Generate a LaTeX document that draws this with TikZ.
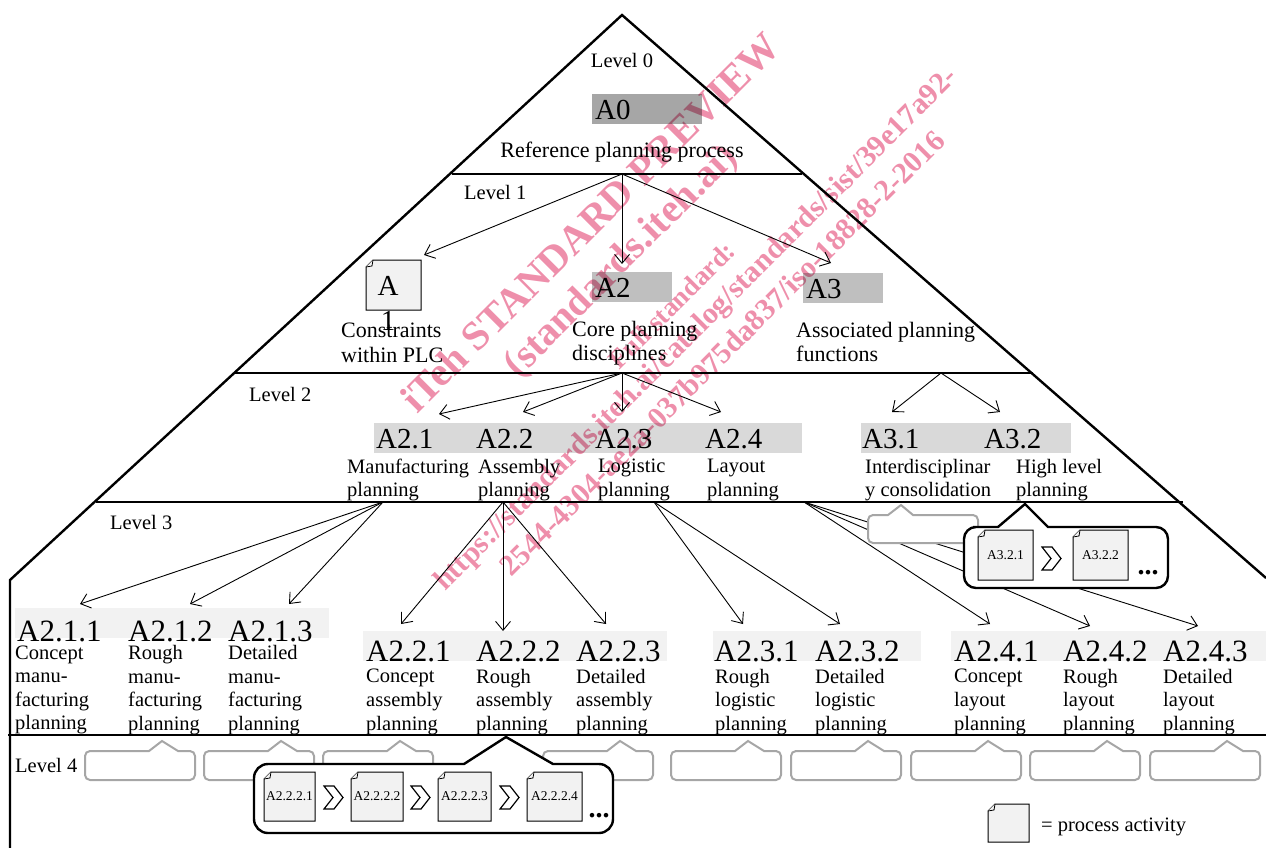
\documentclass[tikz,border=0pt]{standalone}
\usepackage{fontspec}
\setmainfont{Liberation Serif}
\usetikzlibrary{arrows.meta}

\definecolor{barzero}{HTML}{A6A6A6}
\definecolor{barone}{HTML}{BFBFBF}
\definecolor{bartwo}{HTML}{D9D9D9}
\definecolor{barthree}{HTML}{F2F2F2}
\definecolor{sheetcolor}{HTML}{F2F2F2}
\definecolor{stampcolor}{HTML}{EE8FAB}
\definecolor{hintcolor}{HTML}{A6A6A6}

\tikzset{
  pyramid/.style={line width=2.4pt, line join=miter},
  levelline/.style={line width=2.8pt},
  link/.style={->, line width=0.9pt},
  bigcode/.style={anchor=west, inner sep=0pt, font=\fontsize{29}{32}\selectfont},
  smallcode/.style={anchor=west, inner sep=0pt, font=\fontsize{31}{32}\selectfont},
  label/.style={anchor=west, inner sep=0pt, align=left, yshift=-2pt, font=\fontsize{20.5}{23.6}\selectfont},
  biglabel/.style={label, font=\fontsize{22}{24.5}\selectfont},
  sheetcode/.style={inner sep=0pt, font=\fontsize{13.5}{15}\selectfont},
  hint/.style={draw=hintcolor, fill=white, line width=2pt},
  callout/.style={draw=black, fill=white, line width=2.4pt, line join=miter},
  sheet/.style={draw=black, fill=sheetcolor, line width=1pt},
  chevronshape/.style={draw=black, fill=white, line width=1.2pt},
  stamp/.style={text=stampcolor, inner sep=0pt, rotate=45},
  moredots/.style={inner sep=0pt, font=\fontsize{28}{28}\bfseries},
}

% sheet with a folded corner: name, x1, y1, x2, y2, text
\newcommand{\docsheet}[6]{
  \draw[sheet] ({#2+7},#3) -- (#4,#3) -- (#4,#5) -- (#2,#5) -- (#2,{#3+7}) -- cycle;
  \draw[sheet, line width=0.8pt] (#2,{#3+7}) -- ({#2+6},{#3+6}) -- ({#2+7},#3);
  \node[sheetcode] (#1) at ({(#2+#4)/2},{(#3+#5)/2}) {#6};
}
% step mark between two sheets
\newcommand{\stepmark}[2]{
  \draw[chevronshape] (#1,#2) -- ({#1+10},#2) -- ({#1+19},{#2+11.5}) -- ({#1+10},{#2+23}) -- (#1,{#2+23}) -- ({#1+9},{#2+11.5}) -- cycle;
}

\begin{document}
\begin{tikzpicture}[x=1pt, y=-1pt, >={Straight Barb[length=9pt,width=15pt]}]
  \useasboundingbox (0,0) rectangle (1266,848);

  % pyramid
  \coordinate (apex) at (622,15);
  \draw[pyramid] (10,848) -- (10,580) -- (apex) -- (1266,578);
  \draw[levelline] (452,174) -- (802,174);
  \draw[levelline] (235,373) -- (1033,373);
  \draw[levelline] (96,502) -- (1183,502);
  \draw[levelline] (8,735) -- (1266,735);

  % bars
  \fill[barzero] (592,94) rectangle (702,124);
  \fill[barone] (592,272) rectangle (672,302);
  \fill[barone] (803,273) rectangle (883,303);
  \fill[bartwo] (374,423) rectangle (802,453);
  \fill[bartwo] (861,423) rectangle (1071,453);
  \fill[barthree] (15,608) rectangle (329,638);
  \fill[barthree] (363,631) rectangle (667,661);
  \fill[barthree] (713,631) rectangle (921,661);
  \fill[barthree] (951,631) rectangle (1266,661);

  % level names
  \node[label, anchor=center] (level0) at (622,58) {Level 0};
  \node[label] (level1) at (464,190) {Level 1};
  \node[label] (level2) at (249,392) {Level 2};
  \node[label] (level3) at (110,520) {Level 3};
  \node[label] (level4) at (15,763) {Level 4};

  % level 0 and 1
  \node[bigcode] (A0) at (595,110) {A0};
  \node[biglabel, anchor=center] (A0text) at (622,150) {Reference planning process};
  \docsheet{A1sheet}{366}{260}{421}{310}{}
  \node[inner sep=0pt, anchor=north, align=center, font=\fontsize{29}{35}\selectfont] (A1) at (388,276) {A\\1};
  \node[bigcode] (A2) at (595,288) {A2};
  \node[bigcode] (A3) at (806,289) {A3};
  \node[biglabel] (A1text) at (341,341) {Constraints\\within PLC};
  \node[biglabel] (A2text) at (572,341) {Core planning\\disciplines};
  \node[biglabel] (A3text) at (796,340) {Associated planning\\functions};

  % level 2
  \node[bigcode] (A21) at (376,439) {A2.1};
  \node[bigcode] (A22) at (476,439) {A2.2};
  \node[bigcode] (A23) at (595,439) {A2.3};
  \node[bigcode] (A24) at (705,439) {A2.4};
  \node[bigcode] (A31) at (862,439) {A3.1};
  \node[bigcode] (A32) at (984,439) {A3.2};
  \node[label] (A21text) at (347,478) {Manufacturing\\planning};
  \node[label] (A22text) at (478,478) {Assembly\\planning};
  \node[label] (A23text) at (598,478) {Logistic\\planning};
  \node[label] (A24text) at (707,478) {Layout\\planning};
  \node[label] (A31text) at (865,478) {Interdisciplinar\\y consolidation};
  \node[label] (A32text) at (1016,478) {High level\\planning};

  % level 3
  \node[smallcode] (A211) at (17,631) {A2.1.1};
  \node[smallcode] (A212) at (128,631) {A2.1.2};
  \node[smallcode] (A213) at (228,631) {A2.1.3};
  \node[smallcode] (A221) at (366,651) {A2.2.1};
  \node[smallcode] (A222) at (476,651) {A2.2.2};
  \node[smallcode] (A223) at (576,651) {A2.2.3};
  \node[smallcode] (A231) at (714,651) {A2.3.1};
  \node[smallcode] (A232) at (815,651) {A2.3.2};
  \node[smallcode] (A241) at (954,651) {A2.4.1};
  \node[smallcode] (A242) at (1063,651) {A2.4.2};
  \node[smallcode] (A243) at (1163,651) {A2.4.3};
  \node[label] (A211text) at (15,688) {Concept\\manu-\\facturing\\planning};
  \node[label] (A212text) at (128,688) {Rough\\manu-\\facturing\\planning};
  \node[label] (A213text) at (228,688) {Detailed\\manu-\\facturing\\planning};
  \node[label] (A221text) at (366,700) {Concept\\assembly\\planning};
  \node[label] (A222text) at (476,700) {Rough\\assembly\\planning};
  \node[label] (A223text) at (576,700) {Detailed\\assembly\\planning};
  \node[label] (A231text) at (715,700) {Rough\\logistic\\planning};
  \node[label] (A232text) at (815,700) {Detailed\\logistic\\planning};
  \node[label] (A241text) at (954,700) {Concept\\layout\\planning};
  \node[label] (A242text) at (1063,700) {Rough\\layout\\planning};
  \node[label] (A243text) at (1163,700) {Detailed\\layout\\planning};

  % connectors
  \coordinate (hub1) at (622,174);
  \coordinate (hub2) at (622,373);
  \coordinate (hub3) at (941,373);
  \coordinate (hub21) at (383,502);
  \coordinate (hub22) at (503,502);
  \coordinate (hub23) at (654,502);
  \coordinate (hub24) at (804,502);
  \foreach \hub/\tipx/\tipy in {hub1/424/255, hub1/622/264, hub1/831/263,
      hub2/439/414, hub2/523/412, hub2/622/412, hub2/721/412,
      hub3/892/412, hub3/1000/412,
      hub21/80/604, hub21/190/604, hub21/289/604,
      hub22/401/624, hub22/503/631, hub22/606/624,
      hub23/743/624, hub23/840/624,
      hub24/990/624, hub24/1090/626, hub24/1198/626}{
    \coordinate (tip) at (\tipx,\tipy);
    \draw[link] (\hub) -- (tip);
  }

  % empty callouts
  \draw[hint] (880,515) -- (888,515) -- (901,505) -- (913,515) [rounded corners=5pt] -- (978,515) -- (978,543) -- (868,543) -- (868,515) -- cycle;
  \foreach \boxx in {85,204,323,543,671,791,911,1030,1150}{
    \draw[hint] ({\boxx+30},751) -- ({\boxx+64},751) -- ({\boxx+77},741) -- ({\boxx+93},751) [rounded corners=5pt] -- ({\boxx+110},751) -- ({\boxx+110},780) -- (\boxx,780) -- (\boxx,751) -- cycle;
  }

  % opened callouts
  \draw[callout] (985,527) -- (998,527) -- (1025,504) -- (1048,527) [rounded corners=12pt] -- (1168,527) -- (1168,588) -- (964,588) -- (964,527) -- cycle;
  \docsheet{A321}{978}{530}{1033}{580}{A3.2.1}
  \docsheet{A322}{1073}{530}{1128}{580}{A3.2.2}
  \stepmark{1042}{547}
  \node[moredots] (moreA32) at (1148,573) {...};

  \draw[callout] (350,764) -- (464,764) -- (506,737) -- (553,764) [rounded corners=14pt] -- (613,764) -- (613,833) -- (254,833) -- (254,764) -- cycle;
  \docsheet{A2221}{264}{772}{315}{821}{A2.2.2.1}
  \docsheet{A2222}{351}{772}{403}{821}{A2.2.2.2}
  \docsheet{A2223}{438}{772}{491}{821}{A2.2.2.3}
  \docsheet{A2224}{527}{772}{582}{821}{A2.2.2.4}
  \stepmark{324}{786}
  \stepmark{411}{786}
  \stepmark{500}{786}
  \node[moredots] (moreA222) at (599,816) {...};

  % legend
  \docsheet{legendsheet}{988}{804}{1029}{842}{}
  \node[label] (legendtext) at (1041,825) {= process activity};

  % stamp
  \begin{scope}[blend mode=multiply]
    \node[stamp, font=\fontsize{41}{41}\bfseries] (stampA) at (590,222) {iTeh STANDARD PREVIEW};
    \node[stamp, font=\fontsize{40}{40}\bfseries] (stampB) at (622,262) {(standards.iteh.ai)};
    \node[stamp, font=\fontsize{27}{27}\bfseries] (stampC) at (672,305) {Full standard:};
    \node[stamp, font=\fontsize{30}{30}\bfseries] (stampD) at (697,330) {https://standards.iteh.ai/catalog/standards/sist/39e17a92-};
    \node[stamp, font=\fontsize{30}{30}\bfseries] (stampE) at (722,353) {2544-4304-ae2a-037b975da837/iso-18828-2-2016};
  \end{scope}
\end{tikzpicture}
\end{document}
